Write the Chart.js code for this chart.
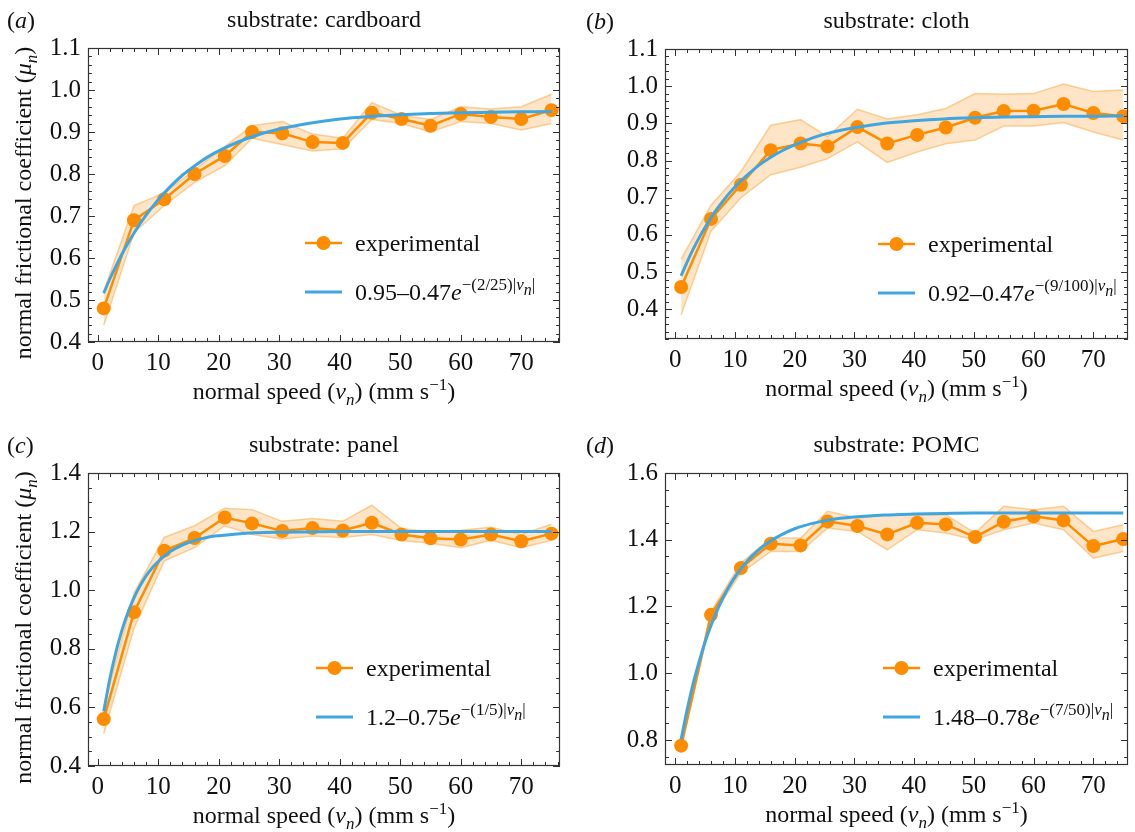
<!DOCTYPE html>
<html>
<head>
<meta charset="utf-8">
<script src="https://cdn.jsdelivr.net/npm/chart.js@4.4.1/dist/chart.umd.min.js"></script>
<style>
  html, body { margin: 0; padding: 0; background: #fff; }
  #wrap { position: relative; width: 1135px; height: 832px; overflow: hidden; }
  canvas { position: absolute; }
</style>
</head>
<body>
<div id="wrap">
  <canvas id="cA" width="567" height="416" style="left:0;top:0"></canvas>
  <canvas id="cB" width="568" height="416" style="left:567px;top:0"></canvas>
  <canvas id="cC" width="567" height="416" style="left:0;top:416px"></canvas>
  <canvas id="cD" width="568" height="416" style="left:567px;top:416px"></canvas>
</div>
<script>
/* friction panels - 4 substrates */

// Data
const speed = [1, 6, 11, 16, 21, 25.5, 30.5, 35.5, 40.5, 45.3, 50.2, 55, 60, 65, 70, 75];

const cardboardMean = [0.48, 0.69, 0.74, 0.80, 0.843, 0.90, 0.897, 0.876, 0.874, 0.946, 0.931, 0.915, 0.943, 0.936, 0.931, 0.952];
const cardboardLow  = [0.44, 0.66, 0.725, 0.78, 0.82, 0.885, 0.87, 0.855, 0.86, 0.93, 0.92, 0.90, 0.925, 0.92, 0.905, 0.92];
const cardboardHigh = [0.52, 0.725, 0.755, 0.81, 0.865, 0.915, 0.925, 0.895, 0.885, 0.97, 0.94, 0.93, 0.96, 0.955, 0.96, 0.99];

const clothMean = [0.46, 0.643, 0.735, 0.828, 0.846, 0.838, 0.89, 0.846, 0.869, 0.889, 0.915, 0.933, 0.934, 0.952, 0.928, 0.919];
const clothLow  = [0.385, 0.61, 0.70, 0.762, 0.782, 0.805, 0.85, 0.795, 0.823, 0.845, 0.855, 0.893, 0.893, 0.902, 0.877, 0.855];
const clothHigh = [0.535, 0.68, 0.77, 0.895, 0.91, 0.864, 0.938, 0.912, 0.923, 0.94, 0.98, 0.978, 0.98, 1.006, 0.986, 0.99];

const panelMean = [0.56, 0.925, 1.135, 1.178, 1.248, 1.228, 1.202, 1.212, 1.204, 1.23, 1.19, 1.177, 1.173, 1.19, 1.167, 1.193];
const panelLow  = [0.51, 0.87, 1.10, 1.145, 1.22, 1.19, 1.175, 1.185, 1.18, 1.19, 1.17, 1.16, 1.145, 1.17, 1.145, 1.17];
const panelHigh = [0.60, 0.99, 1.18, 1.22, 1.28, 1.275, 1.235, 1.245, 1.235, 1.29, 1.21, 1.20, 1.205, 1.215, 1.19, 1.225];

const pomcMean = [0.783, 1.175, 1.315, 1.388, 1.383, 1.455, 1.441, 1.416, 1.451, 1.446, 1.408, 1.454, 1.47, 1.458, 1.381, 1.402];
const pomcLow  = [0.775, 1.165, 1.30, 1.365, 1.365, 1.435, 1.425, 1.37, 1.43, 1.42, 1.40, 1.43, 1.45, 1.43, 1.345, 1.365];
const pomcHigh = [0.79, 1.185, 1.33, 1.405, 1.405, 1.485, 1.465, 1.475, 1.475, 1.475, 1.42, 1.50, 1.49, 1.50, 1.425, 1.445];

// fitted curves, sampled along the blue lines
const fitSpeed = [1, 2, 3, 4, 5, 6, 7, 8, 9, 10, 12, 14, 16, 18, 20, 23, 26, 30, 35, 40, 45, 50, 55, 60, 65, 70, 75];
const cardboardFit = [0.516, 0.550, 0.580, 0.609, 0.635, 0.659, 0.682, 0.702, 0.721, 0.739, 0.770, 0.797, 0.819, 0.839, 0.855, 0.875, 0.891, 0.907, 0.921, 0.931, 0.937, 0.941, 0.944, 0.946, 0.947, 0.948, 0.949];
const clothFit = [0.490, 0.527, 0.561, 0.592, 0.620, 0.646, 0.670, 0.691, 0.711, 0.729, 0.760, 0.787, 0.809, 0.827, 0.842, 0.861, 0.875, 0.888, 0.900, 0.907, 0.912, 0.915, 0.917, 0.918, 0.919, 0.919, 0.920];
const panelFit = [0.586, 0.697, 0.788, 0.863, 0.924, 0.974, 1.015, 1.049, 1.076, 1.098, 1.132, 1.154, 1.169, 1.180, 1.186, 1.192, 1.196, 1.198, 1.199, 1.200, 1.200, 1.200, 1.200, 1.200, 1.200, 1.200, 1.200];
const pomcFit = [0.802, 0.890, 0.968, 1.034, 1.093, 1.143, 1.187, 1.225, 1.259, 1.288, 1.335, 1.370, 1.397, 1.417, 1.433, 1.449, 1.460, 1.468, 1.474, 1.477, 1.479, 1.480, 1.480, 1.480, 1.480, 1.480, 1.480];

// Tick labels
const xTicks = [0, 10, 20, 30, 40, 50, 60, 70];
const yTicksA = [0.4, 0.5, 0.6, 0.7, 0.8, 0.9, 1.0, 1.1];
const yTicksB = [0.4, 0.5, 0.6, 0.7, 0.8, 0.9, 1.0, 1.1];
const yTicksC = [0.4, 0.6, 0.8, 1.0, 1.2, 1.4];
const yTicksD = [0.8, 1.0, 1.2, 1.4, 1.6];

const COLORS = {
    orange: '#fd8c00',
    blue: '#3fa6e2',
    bandFill: 'rgba(253, 170, 70, 0.30)',
    bandEdge: 'rgba(252, 165, 60, 0.50)',
    ink: '#111',
    frame: '#333'
};
const SERIF = "'Liberation Serif', 'Times New Roman', serif";
const TXT = 24;   // titles, legend
const TICK = 25;  // tick labels
Chart.defaults.font.family = SERIF;
Chart.defaults.color = COLORS.ink;

const panels = [
    { canvas: 'cA', tag: 'a', title: 'substrate: cardboard', mean: cardboardMean, low: cardboardLow, high: cardboardHigh,
      fit: cardboardFit, fitHead: '0.95–0.47', fitExp: '−(2/25)|', yTicks: yTicksA, yMin: 0.4, yMax: 1.1, yMinor: 0.02,
      xMin: -1.6, xMax: 76.4, yTitle: true, tagX: 7, legendX: 217,
      pad: { top: 48, right: 6 }, yWidth: 88, xHeight: 74 },
    { canvas: 'cB', tag: 'b', title: 'substrate: cloth', mean: clothMean, low: clothLow, high: clothHigh,
      fit: clothFit, fitHead: '0.92–0.47', fitExp: '−(9/100)|', yTicks: yTicksB, yMin: 0.32, yMax: 1.1, yMinor: 0.02,
      xMin: -1.7, xMax: 75.8, yTitle: false, tagX: 19, legendX: 213,
      pad: { top: 49, right: 1 }, yWidth: 98, xHeight: 77 },
    { canvas: 'cC', tag: 'c', title: 'substrate: panel', mean: panelMean, low: panelLow, high: panelHigh,
      fit: panelFit, fitHead: '1.2–0.75', fitExp: '−(1/5)|', yTicks: yTicksC, yMin: 0.4, yMax: 1.4, yMinor: 0.05,
      xMin: -1.6, xMax: 76.4, yTitle: true, tagX: 7, legendX: 228,
      pad: { top: 57, right: 6 }, yWidth: 88, xHeight: 66 },
    { canvas: 'cD', tag: 'd', title: 'substrate: POMC', mean: pomcMean, low: pomcLow, high: pomcHigh,
      fit: pomcFit, fitHead: '1.48–0.78', fitExp: '−(7/50)|', yTicks: yTicksD, yMin: 0.725, yMax: 1.6, yMinor: 0.05,
      xMin: -1.7, xMax: 75.8, yTitle: false, tagX: 19, legendX: 218,
      pad: { top: 57, right: 1 }, yWidth: 98, xHeight: 67 }
];

/* ================= TEXT HELPERS ================= */
function fontOf(p) {
    return (p.i ? 'italic ' : '') + (p.s || TXT) + 'px ' + SERIF;
}

// draw a run of text pieces (for sub/superscripts), baseline = y
function drawRich(ctx, parts, x, y, align) {
    ctx.textBaseline = 'alphabetic';
    ctx.textAlign = 'left';
    let w = 0;
    parts.forEach(p => { ctx.font = fontOf(p); w += ctx.measureText(p.t).width; });
    let cx = align === 'center' ? x - w / 2 : x;
    parts.forEach(p => {
        ctx.font = fontOf(p);
        ctx.fillText(p.t, cx, y + (p.dy || 0));
        cx += ctx.measureText(p.t).width;
    });
}

function line(ctx, x1, y1, x2, y2) {
    ctx.beginPath();
    ctx.moveTo(x1, y1);
    ctx.lineTo(x2, y2);
    ctx.stroke();
}

/* ================= FRAME / TICKS / LABELS ================= */
function makeDecor(p) {
    return {
        id: 'decor_' + p.tag,
        afterDatasetsDraw(chart) {
            const ctx = chart.ctx;
            const a = chart.chartArea;
            const xs = chart.scales.x;
            const ys = chart.scales.y;
            ctx.save();
            ctx.strokeStyle = COLORS.frame;
            ctx.lineWidth = 1;

            // x ticks, pointing in, top and bottom
            for (let v = 0; v <= xs.max; v += 2) {
                const px = Math.round(xs.getPixelForValue(v)) + 0.5;
                const len = (v % 10 === 0) ? 7 : 4;
                line(ctx, px, a.bottom, px, a.bottom - len);
                line(ctx, px, a.top, px, a.top + len);
            }
            // y ticks, left and right
            const k0 = Math.ceil(ys.min / p.yMinor - 1e-6);
            for (let k = k0; k * p.yMinor <= ys.max + 1e-9; k++) {
                const v = k * p.yMinor;
                const major = p.yTicks.some(t => Math.abs(t - v) < 1e-6);
                const py = Math.round(ys.getPixelForValue(v)) + 0.5;
                const len = major ? 7 : 4;
                line(ctx, a.left, py, a.left + len, py);
                line(ctx, a.right, py, a.right - len, py);
            }
            ctx.lineWidth = 1.2;
            ctx.strokeRect(a.left + 0.5, a.top + 0.5, a.width - 1, a.height - 1);
            ctx.restore();
        },
        afterDraw(chart) {
            const ctx = chart.ctx;
            const a = chart.chartArea;
            ctx.save();
            ctx.fillStyle = COLORS.ink;

            // panel tag + title
            drawRich(ctx, [{ t: '(' }, { t: p.tag, i: true }, { t: ')' }], p.tagX, a.top - 20, 'left');
            drawRich(ctx, [{ t: p.title }], (a.left + a.right) / 2, a.top - 21, 'center');

            // x title
            drawRich(ctx, [
                { t: 'normal speed (' }, { t: 'v', i: true }, { t: 'n', i: true, s: 17, dy: 6 },
                { t: ') (mm s' }, { t: '−1', s: 17, dy: -9 }, { t: ')' }
            ], (a.left + a.right) / 2, a.bottom + 57, 'center');

            // y title (left column only)
            if (p.yTitle) {
                ctx.save();
                ctx.translate(31, (a.top + a.bottom) / 2 + 8);
                ctx.rotate(-Math.PI / 2);
                drawRich(ctx, [
                    { t: 'normal frictional coefficient (' }, { t: 'μ', i: true }, { t: 'n', i: true, s: 17, dy: 6 }, { t: ')' }
                ], 0, 0, 'center');
                ctx.restore();
            }

            // legend
            const lx = a.left + p.legendX;
            const y1 = a.top + 195;
            const y2 = a.top + 244;
            ctx.lineWidth = 2.5;
            ctx.strokeStyle = COLORS.orange;
            line(ctx, lx, y1, lx + 37, y1);
            ctx.beginPath();
            ctx.arc(lx + 18.5, y1, 7, 0, Math.PI * 2);
            ctx.fillStyle = COLORS.orange;
            ctx.fill();
            ctx.lineWidth = 3;
            ctx.strokeStyle = COLORS.blue;
            line(ctx, lx, y2, lx + 37, y2);

            ctx.fillStyle = COLORS.ink;
            drawRich(ctx, [{ t: 'experimental' }], lx + 50, y1 + 8, 'left');
            drawRich(ctx, [
                { t: p.fitHead }, { t: 'e', i: true },
                { t: p.fitExp, s: 17, dy: -10 }, { t: 'v', i: true, s: 17, dy: -10 },
                { t: 'n', i: true, s: 16, dy: -5 }, { t: '|', s: 17, dy: -10 }
            ], lx + 50, y2 + 8, 'left');
            ctx.restore();
        }
    };
}

/* ================= CHARTS ================= */
function pts(xs, ys) {
    return xs.map((x, i) => ({ x: x, y: ys[i] }));
}

panels.forEach(p => {
    const ctx = document.getElementById(p.canvas).getContext('2d');
    new Chart(ctx, {
        type: 'line',
        data: {
            datasets: [
                { data: pts(speed, p.high), borderColor: COLORS.bandEdge, borderWidth: 1.5, pointRadius: 0,
                  fill: '+1', backgroundColor: COLORS.bandFill, order: 3 },
                { data: pts(speed, p.low), borderColor: COLORS.bandEdge, borderWidth: 1.5, pointRadius: 0,
                  fill: false, order: 3 },
                { data: pts(speed, p.mean), borderColor: COLORS.orange, borderWidth: 2.5, pointRadius: 7,
                  pointBackgroundColor: COLORS.orange, pointBorderWidth: 0, fill: false, order: 2 },
                { data: pts(fitSpeed, p.fit), borderColor: COLORS.blue, borderWidth: 3, pointRadius: 0,
                  cubicInterpolationMode: 'monotone', fill: false, order: 1 }
            ]
        },
        options: {
            responsive: false,
            animation: false,
            events: [],
            layout: { padding: { left: 0, top: p.pad.top, right: p.pad.right, bottom: 0 } },
            plugins: { legend: { display: false }, tooltip: { enabled: false } },
            scales: {
                x: {
                    type: 'linear', min: p.xMin, max: p.xMax,
                    grid: { display: false, drawTicks: false }, border: { display: false },
                    ticks: { font: { size: TICK }, color: COLORS.ink, padding: 6, autoSkip: false, maxRotation: 0,
                             callback: v => String(v) },
                    afterBuildTicks: s => { s.ticks = xTicks.map(v => ({ value: v })); },
                    afterFit: s => { s.height = p.xHeight; }
                },
                y: {
                    type: 'linear', min: p.yMin, max: p.yMax,
                    grid: { display: false, drawTicks: false }, border: { display: false },
                    ticks: { font: { size: TICK }, color: COLORS.ink, padding: 7, autoSkip: false,
                             callback: v => v.toFixed(1) },
                    afterBuildTicks: s => { s.ticks = p.yTicks.map(v => ({ value: v })); },
                    afterFit: s => { s.width = p.yWidth; }
                }
            }
        },
        plugins: [makeDecor(p)]
    });
});
</script>
</body>
</html>
